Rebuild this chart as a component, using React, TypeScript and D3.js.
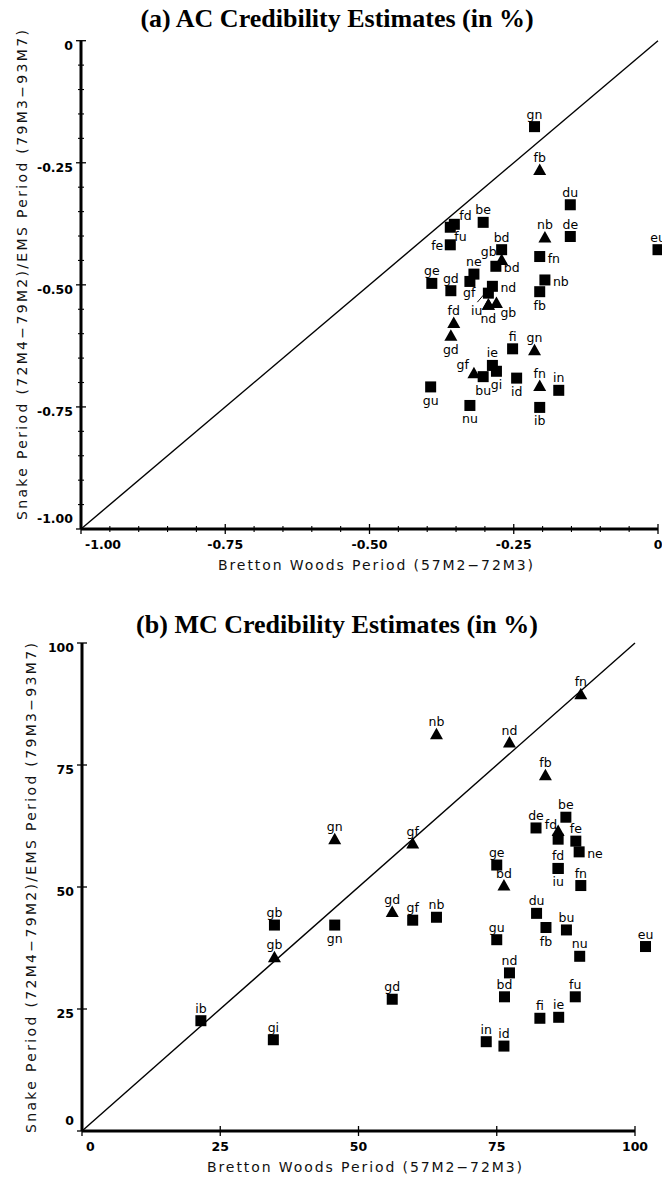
import * as d3 from 'd3'

// ---- (a) AC credibility estimates ----
const acTickValues = [-1, -0.75, -0.5, -0.25, 0]
const acTickLabels = ['-1.00', '-0.75', '-0.50', '-0.25', '0']

const acSqLabel = ['gn', 'du', 'de', 'fn', 'nb', 'fb', 'eu', 'fd', 'fu', 'be', 'fe', 'bd', 'bd', 'ne', '', 'ge', 'gd', 'nd', 'gf',
  'fi', 'ie', 'gi', 'bu', 'id', 'in', 'gu', 'nu', 'ib']
const acSqX = [-0.214, -0.152, -0.152, -0.205, -0.196, -0.205, 0.0, -0.353, -0.36, -0.303, -0.36, -0.271, -0.281, -0.319, -0.326, -0.392, -0.359, -0.287, -0.294,
  -0.252, -0.287, -0.28, -0.303, -0.245, -0.172, -0.394, -0.326, -0.205]
const acSqY = [-0.176, -0.336, -0.401, -0.442, -0.49, -0.514, -0.428, -0.376, -0.382, -0.372, -0.418, -0.428, -0.462, -0.478, -0.493, -0.497, -0.512, -0.503, -0.517,
  -0.631, -0.665, -0.677, -0.688, -0.691, -0.716, -0.709, -0.747, -0.751]
const acSqPos = ['t', 't', 't', 'r', 'r', 'b', 't', 'tr', 'br', 't', 'l', 't', 'r', 't', 't', 't', 't', 'r', 'la',
  't', 't', 'b', 'b', 'b', 't', 'b', 'b', 'b']

const acTriLabel = ['fb', 'nb', 'gb', 'nd', 'iu', 'gb', 'fd', 'gd', 'gn', 'gf', 'fn']
const acTriX = [-0.205, -0.196, -0.271, -0.294, -0.294, -0.28, -0.354, -0.359, -0.214, -0.319, -0.205]
const acTriY = [-0.265, -0.403, -0.449, -0.541, -0.541, -0.537, -0.578, -0.604, -0.634, -0.681, -0.707]
const acTriPos = ['t', 't', 'tl', 'b', 'bl', 'br', 't', 'b', 't', 'tl', 't']

// ---- (b) MC credibility estimates ----
const mcTickValues = [0, 25, 50, 75, 100]
const mcTickLabels = ['0', '25', '50', '75', '100']

const mcSqLabel = ['be', 'de', '', 'fe', 'ne', 'fd', 'iu', 'fn', 'ge', 'gf', 'nb', 'gb', 'gn', 'ib', 'gi', 'gd', 'gu', 'du', 'fb',
  'bu', 'nu', 'eu', 'nd', 'bd', 'fu', 'fi', 'ie', 'in', 'id']
const mcSqX = [87.5, 82.1, 86.1, 89.3, 89.9, 86.1, 86.1, 90.2, 75.0, 59.8, 64.1, 34.8, 45.7, 21.5, 34.6, 56.1, 75.0, 82.2, 83.9,
  87.6, 90.0, 101.9, 77.3, 76.4, 89.2, 82.8, 86.2, 73.1, 76.3]
const mcSqY = [64.3, 62.1, 59.8, 59.4, 57.2, 53.8, 53.8, 50.3, 54.5, 43.2, 43.8, 42.2, 42.2, 22.6, 18.7, 27.0, 39.2, 44.6, 41.7,
  41.2, 35.8, 37.8, 32.4, 27.5, 27.5, 23.1, 23.3, 18.3, 17.4]
const mcSqPos = ['t', 't', 't', 't', 'r', 't', 'b', 't', 't', 't', 't', 't', 'b', 't', 't', 't', 't', 't', 'b',
  't', 't', 't', 't', 't', 't', 't', 't', 't', 't']

const mcTriLabel = ['nb', 'nd', 'fn', 'fb', 'fd', 'bd', 'gf', 'gn', 'gd', 'gb']
const mcTriX = [64.1, 77.3, 90.2, 83.8, 86.1, 76.3, 59.8, 45.7, 56.1, 34.8]
const mcTriY = [81.3, 79.6, 89.5, 72.9, 61.5, 50.3, 58.9, 59.8, 44.9, 35.6]
const mcTriPos = ['t', 't', 't', 't', 'tl2', 't', 't', 't', 't', 't']

const X_TITLE = 'Bretton Woods Period (57M2\u221272M3)'
const Y_TITLE = 'Snake Period (72M4\u221279M2)/EMS Period (79M3\u221293M7)'

const labelFont = "'DejaVu Sans', sans-serif"

function place(pos: string) {
  switch (pos) {
    case 'b': return { dx: 0, dy: 18, anchor: 'middle' }
    case 'r': return { dx: 8, dy: 6, anchor: 'start' }
    case 'l': return { dx: -7, dy: 5, anchor: 'end' }
    case 'tl': return { dx: -5, dy: -4, anchor: 'end' }
    case 'tl2': return { dx: -1, dy: -2, anchor: 'end' }
    case 'tr': return { dx: 5, dy: -4, anchor: 'start' }
    case 'br': return { dx: 4, dy: 14, anchor: 'start' }
    case 'bl': return { dx: -6, dy: 10, anchor: 'end' }
    case 'la': return { dx: -13, dy: 4, anchor: 'end' }
    default: return { dx: 0, dy: -8, anchor: 'middle' }
  }
}

interface Series {
  label: string[]
  x: number[]
  y: number[]
  pos: string[]
}

interface PanelProps {
  title: string
  titleY: number
  xDomain: [number, number]
  xRange: [number, number]
  yDomain: [number, number]
  yRange: [number, number]
  ticks: number[]
  tickLabels: string[]
  minorStep: number | null
  squares: Series
  triangles: Series
  yTitleX: number
  yTitleY: number
}

function Panel(p: PanelProps) {
  const x = d3.scaleLinear().domain(p.xDomain).range(p.xRange)
  const y = d3.scaleLinear().domain(p.yDomain).range(p.yRange)
  const x0 = p.xRange[0]
  const y0 = p.yRange[0]
  const isMajor = (v: number) => p.ticks.some(t => Math.abs(t - v) < 1e-9)
  const minor = p.minorStep ? d3.range(p.xDomain[0], p.xDomain[1] + 1e-9, p.minorStep).filter(v => !isMajor(v)) : []
  const minorY = p.minorStep ? d3.range(p.yDomain[0], p.yDomain[1] + 1e-9, p.minorStep).filter(v => !isMajor(v)) : []
  const line = d3.line<number>().x(v => x(v)).y(v => y(v))
  const cx = (p.xRange[0] + p.xRange[1]) / 2

  const labels = (s: Series) => s.label.map((l, i) => {
    if (!l) return null
    const o = place(s.pos[i])
    const px = x(s.x[i]), py = y(s.y[i])
    return (
      <g key={'l' + i}>
        <text x={px + o.dx} y={py + o.dy} textAnchor={o.anchor} fontSize={12.5}
          fontFamily={labelFont} fill="#000">{l}</text>
        {s.pos[i] === 'la' && (
          <line x1={px - 11} y1={py + 9} x2={px - 5} y2={py + 2} stroke="#000" strokeWidth={1} />
        )}
      </g>
    )
  })

  return (
    <g>
      <text x={337} y={p.titleY} textAnchor="middle" fontFamily="'Liberation Serif', 'Times New Roman', serif"
        fontWeight="bold" fontSize={26}>{p.title}</text>

      {/* 45 degree reference line */}
      <path d={line([p.xDomain[0], p.xDomain[1]]) || ''} stroke="#000" strokeWidth={1.4} fill="none" />

      {/* axes */}
      <line x1={x0} x2={p.xRange[1]} y1={y0} y2={y0} stroke="#000" strokeWidth={3} />
      <line x1={x0} x2={x0} y1={p.yRange[0]} y2={p.yRange[1]} stroke="#000" strokeWidth={3} />
      {p.ticks.map(t => (
        <g key={'t' + t}>
          <line x1={x(t)} x2={x(t)} y1={y0 - 5} y2={y0 + 5} stroke="#000" strokeWidth={1.3} />
          <line x1={x0 - 5} x2={x0 + 5} y1={y(t)} y2={y(t)} stroke="#000" strokeWidth={1.3} />
        </g>
      ))}
      {minor.map(t => (
        <line key={'mx' + t} x1={x(t)} x2={x(t)} y1={y0 - 3} y2={y0 + 3} stroke="#000" strokeWidth={1.1} />
      ))}
      {minorY.map(t => (
        <line key={'my' + t} x1={x0 - 3} x2={x0 + 3} y1={y(t)} y2={y(t)} stroke="#000" strokeWidth={1.1} />
      ))}
      {p.ticks.map((t, i) => (
        <text key={'xl' + t} x={i === 0 ? x0 + 4 : x(t)} y={y0 + 20} textAnchor={i === 0 ? 'start' : 'middle'}
          fontFamily={labelFont} fontWeight="bold" fontSize={12.5}>{p.tickLabels[i]}</text>
      ))}
      {p.ticks.map((t, i) => (
        <text key={'yl' + t} x={x0 - 8} y={i === 0 ? y(t) - 6 : y(t) + 9} textAnchor="end"
          fontFamily={labelFont} fontWeight="bold" fontSize={12.5}>{p.tickLabels[i]}</text>
      ))}

      {/* axis titles */}
      <text x={cx + 6} y={y0 + 41} textAnchor="middle" fontFamily={labelFont} fontSize={14} fill="#111"
        textLength={315} lengthAdjust="spacing">{X_TITLE}</text>
      <text transform={`translate(${p.yTitleX},${p.yTitleY}) rotate(-90)`} textAnchor="middle" fontFamily={labelFont}
        fontSize={14} fill="#111" textLength={490} lengthAdjust="spacing">{Y_TITLE}</text>

      {/* markers */}
      {p.squares.x.map((v, i) => (
        <rect key={'s' + i} x={x(v) - 5.5} y={y(p.squares.y[i]) - 5.5} width={11} height={11} fill="#000" />
      ))}
      {p.triangles.x.map((v, i) => {
        const px = x(v), py = y(p.triangles.y[i])
        return <path key={'tr' + i} d={`M${px},${py - 6.5}L${px + 6.5},${py + 5}L${px - 6.5},${py + 5}Z`} fill="#000" />
      })}
      {labels(p.squares)}
      {labels(p.triangles)}
    </g>
  )
}

export default function App() {
  return (
    <div style={{ position: 'absolute', left: 0, top: 0, background: '#fff' }}>
      <svg width={662} height={1184} style={{ display: 'block', overflow: 'hidden' }}>
        <rect width={662} height={1184} fill="#fff" />
        <Panel
          title="(a) AC Credibility Estimates (in %)"
          titleY={27}
          xDomain={[-1, 0]} xRange={[81, 658]}
          yDomain={[-1, 0]} yRange={[529, 40.7]}
          ticks={acTickValues} tickLabels={acTickLabels}
          minorStep={0.05}
          squares={{ label: acSqLabel, x: acSqX, y: acSqY, pos: acSqPos }}
          triangles={{ label: acTriLabel, x: acTriX, y: acTriY, pos: acTriPos }}
          yTitleX={27}
          yTitleY={275}
        />
        <Panel
          title="(b) MC Credibility Estimates (in %)"
          titleY={633}
          xDomain={[0, 100]} xRange={[82, 635]}
          yDomain={[0, 100]} yRange={[1131, 643]}
          ticks={mcTickValues} tickLabels={mcTickLabels}
          minorStep={null}
          squares={{ label: mcSqLabel, x: mcSqX, y: mcSqY, pos: mcSqPos }}
          triangles={{ label: mcTriLabel, x: mcTriX, y: mcTriY, pos: mcTriPos }}
          yTitleX={36}
          yTitleY={888}
        />
      </svg>
    </div>
  )
}
